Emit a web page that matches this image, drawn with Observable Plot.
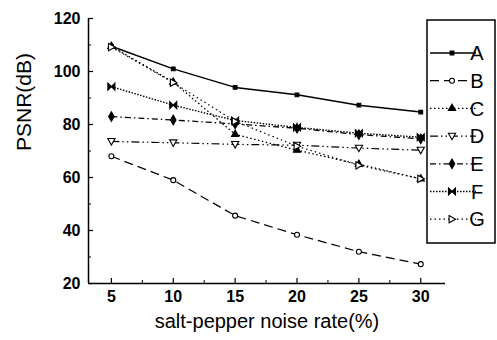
<!DOCTYPE html>
<html>
<head>
<meta charset="utf-8">
<script src="https://cdn.jsdelivr.net/npm/d3@7"></script>
<script src="https://cdn.jsdelivr.net/npm/@observablehq/plot@0.6"></script>
<style>
  html, body { margin: 0; padding: 0; background: #fff; }
  #chart svg { display: block; font-family: "Liberation Sans", Arial, sans-serif; }
</style>
</head>
<body>
<div id="chart"></div>
<script>
// ---- data ----
const rates = [5, 10, 15, 20, 25, 30];
const seriesNames = ["A", "B", "C", "D", "E", "F", "G"];
const A = [109.5, 101, 94, 91.2, 87.3, 84.7];
const B = [68, 59, 45.6, 38.4, 32, 27.3];
const C = [109.5, 96, 76.3, 70.3, 65, 59.5];
const D = [73.6, 73.1, 72.5, 72.2, 71.1, 70.3];
const E = [83, 81.7, 80.2, 78.6, 76.2, 74.6];
const F = [94.3, 87.3, 81.5, 78.9, 76.7, 75.2];
const G = [109.2, 95.8, 81.2, 71.8, 64.6, 59.5];
const xTicks = [5, 10, 15, 20, 25, 30];
const xMinor = [7.5, 12.5, 17.5, 22.5, 27.5];
const yTicks = [20, 40, 60, 80, 100, 120];
const yMinor = [30, 50, 70, 90, 110];
const xLabel = "salt-pepper noise rate(%)";
const yLabel = "PSNR(dB)";

const values = {A, B, C, D, E, F, G};
const rows = seriesNames.flatMap(s => rates.map((r, i) => ({series: s, rate: r, value: values[s][i]})));

// ---- custom symbols ----
const triDown = {draw(ctx, size) {
  const h = Math.sqrt(size / 0.433) ; const w = h;
  ctx.moveTo(-w/2, -h*0.4); ctx.lineTo(w/2, -h*0.4); ctx.lineTo(0, h*0.5); ctx.closePath();
}};
const triRight = {draw(ctx, size) {
  const h = Math.sqrt(size / 0.433); const w = h;
  ctx.moveTo(-w*0.4, -h/2); ctx.lineTo(w*0.5, 0); ctx.lineTo(-w*0.4, h/2); ctx.closePath();
}};
const bowtie = {draw(ctx, size) {
  const s = Math.sqrt(size) * 0.6;
  ctx.moveTo(-s, -s); ctx.lineTo(s, s); ctx.lineTo(s, -s); ctx.lineTo(-s, s); ctx.closePath();
}};

// ---- styles ----
const style = {
  A: {dash: null, width: 1.5, symbol: "square", fill: "black", r: 2.1},
  B: {dash: "9,5", width: 1.2, symbol: "circle", fill: "white", r: 2.5},
  C: {dash: "1.5,2.5", width: 1.3, symbol: "triangle", fill: "black", r: 2.7},
  D: {dash: "8,3,1.5,3,1.5,3", width: 1.2, symbol: triDown, fill: "white", r: 2.7},
  E: {dash: "6,3,1.5,3", width: 1.3, symbol: "diamond", fill: "black", r: 2.9},
  F: {dash: "1.5,1.5", width: 1.4, symbol: bowtie, fill: "black", r: 3.3},
  G: {dash: "1.5,3", width: 1.2, symbol: triRight, fill: "white", r: 2.7}
};

const W = 497, H = 340;
const mL = 88, mR = 52, mT = 18, mB = 57;
const xDomain = [3.15, 32];
const yDomain = [20, 120];
const plotW = W - mL - mR, plotH = H - mT - mB;

const marks = [];
for (const s of seriesNames) {
  const st = style[s];
  const data = rows.filter(d => d.series === s);
  marks.push(Plot.line(data, {x: "rate", y: "value", stroke: "black", strokeWidth: st.width,
    strokeDasharray: st.dash, strokeLinecap: "butt"}));
}
for (const s of seriesNames) {
  const st = style[s];
  const data = rows.filter(d => d.series === s);
  marks.push(Plot.dot(data, {x: "rate", y: "value", symbol: st.symbol, r: st.r,
    fill: st.fill, stroke: "black", strokeWidth: 1.1}));
}

const chart = Plot.plot({
  width: W, height: H,
  marginLeft: mL, marginRight: mR, marginTop: mT, marginBottom: mB,
  style: {fontFamily: "Liberation Sans, Arial, sans-serif", background: "white", color: "black"},
  x: {domain: xDomain, label: null},
  y: {domain: yDomain, label: null},
  marks: [
    Plot.ruleY([yDomain[0]], {stroke: "black", strokeWidth: 1.5}),
    Plot.ruleX([xDomain[0]], {stroke: "black", strokeWidth: 1.5}),
    Plot.tickX(xTicks, {x: d => d, insetTop: plotH - 5, stroke: "black", strokeWidth: 1.2}),
    Plot.tickX(xMinor, {x: d => d, insetTop: plotH - 3, stroke: "black", strokeWidth: 1}),
    Plot.tickY(yTicks, {y: d => d, insetRight: plotW - 5, stroke: "black", strokeWidth: 1.2}),
    Plot.tickY(yMinor, {y: d => d, insetRight: plotW - 3, stroke: "black", strokeWidth: 1}),
    Plot.axisX({ticks: xTicks, tickSize: 0, tickPadding: 7, fontSize: 16, fontWeight: "bold", label: null, tickFormat: d => d}),
    Plot.axisY({ticks: yTicks, tickSize: 0, tickPadding: 8, fontSize: 16, fontWeight: "bold", label: null, tickFormat: d => d}),
    Plot.text([yLabel], {frameAnchor: "left", dx: -64, rotate: -90, fontSize: 21, fill: "black"}),
    Plot.text([xLabel], {frameAnchor: "bottom", dy: 44, fontSize: 20, fill: "black"}),
    ...marks
  ]
});
document.getElementById("chart").appendChild(chart);

// ---- legend (drawn inside the same SVG) ----
const svg = d3.select(chart);
const lg = svg.append("g").attr("class", "legend");
const box = {x: 427, y: 20, w: 68, h: 223};
lg.append("rect").attr("x", box.x).attr("y", box.y).attr("width", box.w).attr("height", box.h)
  .attr("fill", "white").attr("stroke", "black").attr("stroke-width", 1.5);
const row0 = 53, rowStep = 27.7;
seriesNames.forEach((s, i) => {
  const st = style[s];
  const y = row0 + i * rowStep;
  lg.append("line").attr("x1", 430).attr("x2", 476).attr("y1", y).attr("y2", y)
    .attr("stroke", "black").attr("stroke-width", st.width)
    .attr("stroke-dasharray", st.dash);
  const sym = typeof st.symbol === "string"
    ? {square: d3.symbolSquare, circle: d3.symbolCircle, triangle: d3.symbolTriangle, diamond: d3.symbolDiamond}[st.symbol]
    : st.symbol;
  lg.append("path").attr("transform", `translate(452,${y})`)
    .attr("d", d3.symbol(sym, Math.PI * st.r * st.r)())
    .attr("fill", st.fill).attr("stroke", "black").attr("stroke-width", 1.1);
  lg.append("text").attr("x", 477).attr("y", y).attr("dy", "0.36em")
    .attr("font-size", 20).attr("fill", "black").text(s);
});
</script>
</body>
</html>
